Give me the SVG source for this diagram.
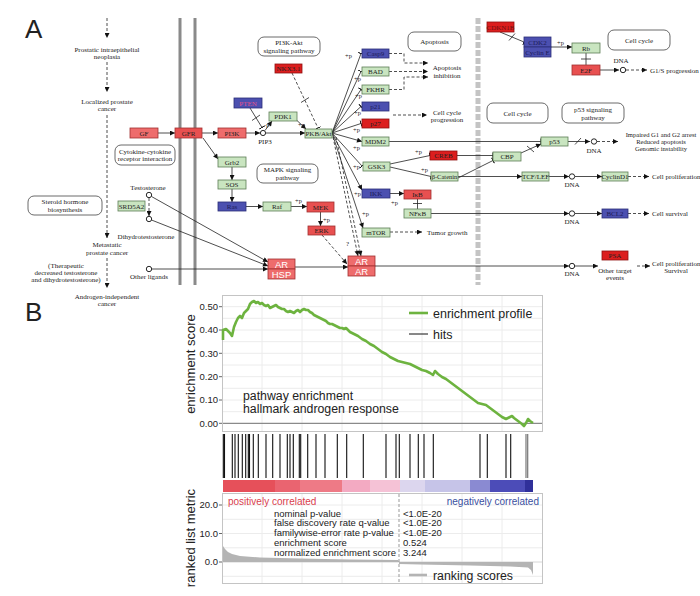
<svg xmlns="http://www.w3.org/2000/svg" width="700" height="596" viewBox="0 0 700 596">
<style>
.g{fill:#c9e5c0;stroke:#5d7d55;stroke-width:.8}
.b{fill:#4c50b0;stroke:#2b2e78;stroke-width:.8}
.r{fill:#e85050;stroke:#a03030;stroke-width:.8}
.rl{fill:#ee6c6c;stroke:#a03030;stroke-width:.8}
.rs{fill:#dc1e1e;stroke:#901010;stroke-width:.8}
.pw{fill:#fff;stroke:#444;stroke-width:.8}
.t{font-family:"Liberation Serif",serif;font-size:7px;text-anchor:middle;fill:#222}
.tl{font-family:"Liberation Serif",serif;font-size:7px;fill:#222}
.tb{font-family:"Liberation Serif",serif;font-size:7px;text-anchor:middle;fill:#1c1c58}
.ta{font-family:"Liberation Sans",sans-serif;font-size:9.5px;text-anchor:middle;fill:#fff}
.p{font-family:"Liberation Serif",serif;font-size:6.5px;fill:#222}
.c{fill:none;stroke:#222;stroke-width:.8}
.d{stroke-dasharray:3,2}
.dot{fill:#fff;stroke:#111;stroke-width:.9}
.s{font-family:"Liberation Sans",sans-serif;fill:#222}
.grid{stroke:#ececec;stroke-width:1}
.hit{stroke:#111;stroke-width:1.1}
</style>
<defs>
<marker id="a" viewBox="0 0 10 10" refX="10" refY="5" markerWidth="6" markerHeight="5" orient="auto" markerUnits="userSpaceOnUse"><path d="M0,0 10,5 0,10z" fill="#111"/></marker>
<marker id="i" viewBox="0 0 2 10" refX="1" refY="5" markerWidth="1.2" markerHeight="7" orient="auto" markerUnits="userSpaceOnUse"><rect width="2" height="10" fill="#111"/></marker>
</defs>
<rect width="700" height="596" fill="#fff"/>

<!-- Panel A -->
<text x="25" y="38" class="s" font-size="26">A</text>
<rect x="178.5" y="18" width="3" height="267" fill="#8a8a8a"/>
<rect x="193.5" y="18" width="3" height="267" fill="#8a8a8a"/>
<line x1="478" y1="18" x2="478" y2="285" stroke="#c4c4c4" stroke-width="5" stroke-dasharray="6,2"/>

<g id="stages">
<text class="t" x="107" y="52">Prostatic intraepithelial</text>
<text class="t" x="107" y="58.5">neoplasia</text>
<text class="t" x="107" y="104">Localized prostate</text>
<text class="t" x="107" y="110.5">cancer</text>
<text class="t" x="107" y="247">Metastatic</text>
<text class="t" x="107" y="254.5">prostate cancer</text>
<text class="t" x="66" y="267.5">(Therapeutic</text>
<text class="t" x="66" y="274.5">decreased testosterone</text>
<text class="t" x="66" y="281.5">and dihydrotestosterone)</text>
<text class="t" x="107" y="299">Androgen-independent</text>
<text class="t" x="107" y="305.5">cancer</text>
</g>

<g id="pathways">
<rect class="pw" x="258" y="37" width="62" height="19" rx="6"/><text class="t" x="289" y="45">PI3K-Akt</text><text class="t" x="289" y="52.5">signaling pathway</text>
<rect class="pw" x="408" y="32" width="53" height="19" rx="6"/><text class="t" x="434.5" y="44">Apoptosis</text>
<rect class="pw" x="608" y="30" width="62" height="20" rx="6"/><text class="t" x="639" y="42.5">Cell cycle</text>
<rect class="pw" x="487" y="103" width="61" height="20" rx="6"/><text class="t" x="517.5" y="115.5">Cell cycle</text>
<rect class="pw" x="562" y="103" width="62" height="20" rx="6"/><text class="t" x="593" y="112">p53 signaling</text><text class="t" x="593" y="119.5">pathway</text>
<rect class="pw" x="257" y="164" width="61" height="19" rx="6"/><text class="t" x="287.5" y="172">MAPK signaling</text><text class="t" x="287.5" y="179.5">pathway</text>
<rect class="pw" x="115" y="145" width="60" height="20" rx="6"/><text class="t" x="145" y="153.5">Cytokine-cytokine</text><text class="t" x="145" y="161">receptor interaction</text>
<rect class="pw" x="28" y="196" width="74" height="19" rx="6"/><text class="t" x="65" y="204">Steroid hormone</text><text class="t" x="65" y="211.5">biosynthesis</text>
</g>

<g id="connectors">
<path class="c d" d="M107,18V38" marker-end="url(#a)"/>
<path class="c d" d="M107,62V92" marker-end="url(#a)"/>
<path class="c d" d="M107,115V238" marker-end="url(#a)"/>
<path class="c d" d="M107,258V288" marker-end="url(#a)"/>
<path class="c" d="M158,133H175" marker-end="url(#a)"/>
<path class="c" d="M202,133H218" marker-end="url(#a)"/>
<path class="c" d="M246,133H260" marker-end="url(#a)"/>
<path class="c" d="M266,133H305" marker-end="url(#a)"/>
<path class="c" d="M265,130.5L272,121" marker-end="url(#a)"/>
<path class="c" d="M297,120.5L306,129" marker-end="url(#a)"/>
<path class="c" d="M250,108L262,127.5" marker-end="url(#i)"/>
<path class="c" d="M252,120.5L260,115"/>
<path class="c d" d="M292,73L318,128" marker-end="url(#i)"/>
<path class="c" d="M301,102.5L309,97.5"/>
<path class="c" d="M203,138L218,159" marker-end="url(#a)"/>
<path class="c" d="M232,167V180" marker-end="url(#a)"/>
<path class="c" d="M232,189V202" marker-end="url(#a)"/>
<path class="c" d="M246,206.5H263" marker-end="url(#a)"/>
<path class="c" d="M291,206.5H307" marker-end="url(#a)"/>
<path class="c" d="M320.5,212V226" marker-end="url(#a)"/>
<path class="c d" d="M322,235L347,264" marker-end="url(#a)"/>
<path class="c" d="M295,267H348" marker-end="url(#a)"/>
<path class="c d" d="M149,198V216" marker-end="url(#a)"/>
<path class="c" d="M151.5,196.5L268,262" marker-end="url(#a)"/>
<path class="c" d="M151.5,220L268,266" marker-end="url(#a)"/>
<path class="c" d="M152,269H268" marker-end="url(#a)"/>
<path class="c" d="M332,133L361,53.5" marker-end="url(#i)"/>
<path class="c" d="M332,133L361,71.5" marker-end="url(#i)"/>
<path class="c" d="M332,133L361,89.5" marker-end="url(#i)"/>
<path class="c" d="M332,133L361,106.5" marker-end="url(#i)"/>
<path class="c" d="M332,133L361,123.5" marker-end="url(#i)"/>
<path class="c" d="M332,133L362,141.5" marker-end="url(#a)"/>
<path class="c" d="M332,133L362,166" marker-end="url(#i)"/>
<path class="c" d="M332,133L362,190" marker-end="url(#a)"/>
<path class="c" d="M332,133L363,228" marker-end="url(#a)"/>
<path class="c d" d="M333,137L358,256" marker-end="url(#a)"/>
<path class="c d" d="M336,137L361,256" marker-end="url(#a)"/>
<path class="c d" d="M389,53.5H404V63H428" marker-end="url(#a)"/>
<path class="c d" d="M389,71.5H428" marker-end="url(#a)"/>
<path class="c d" d="M389,89.5H404V77H428" marker-end="url(#a)"/>
<path class="c d" d="M393,115H427" marker-end="url(#a)"/>
<path class="c d" d="M390,232H422" marker-end="url(#a)"/>
<path class="c" d="M389,141.5H541" marker-end="url(#i)"/>
<path class="c" d="M390,164L430,155.5" marker-end="url(#i)"/>
<path class="c" d="M390,167L431,176.5" marker-end="url(#i)"/>
<path class="c" d="M457,155.5H493" marker-end="url(#i)"/>
<path class="c" d="M458,178L493,160.5" marker-end="url(#i)"/>
<path class="c" d="M521,153L541,144" marker-end="url(#a)"/>
<path class="c" d="M527,146L534,152"/>
<path class="c" d="M458,176.5H522" marker-end="url(#a)"/>
<path class="c" d="M549,176.5H569" marker-end="url(#a)"/>
<path class="c" d="M575,176.5H602" marker-end="url(#a)"/>
<path class="c d" d="M628,176.5H649" marker-end="url(#a)"/>
<path class="c" d="M390,193.5H404" marker-end="url(#a)"/>
<path class="c" d="M417.5,199V209M413,203.5H422"/>
<path class="c" d="M431,213.5H569" marker-end="url(#a)"/>
<path class="c" d="M575,213.5H602" marker-end="url(#a)"/>
<path class="c d" d="M628,213.5H649" marker-end="url(#a)"/>
<path class="c" d="M375,266H569" marker-end="url(#a)"/>
<path class="c" d="M575,266H598" marker-end="url(#a)"/>
<path class="c d" d="M637,266H650" marker-end="url(#a)"/>
<path class="c" d="M568,141.5H590" marker-end="url(#a)"/>
<path class="c" d="M575,144.5L581,138"/>
<path class="c d" d="M597,141.5H618" marker-end="url(#a)"/>
<path class="c" d="M586,53V65M581,59H591"/>
<path class="c" d="M551,47H572" marker-end="url(#a)"/>
<path class="c" d="M500,32L524,42" marker-end="url(#i)"/>
<path class="c" d="M509,40.5L515,33.5"/>
<path class="c" d="M600,70H619" marker-end="url(#a)"/>
<path class="c d" d="M626,70H647" marker-end="url(#a)"/>
<circle class="dot" cx="263" cy="133" r="2.6"/>
<circle class="dot" cx="149" cy="195" r="2.7"/>
<circle class="dot" cx="149" cy="219" r="2.7"/>
<circle class="dot" cx="149" cy="269" r="2.7"/>
<circle class="dot" cx="572" cy="176.5" r="2.7"/>
<circle class="dot" cx="572" cy="213.5" r="2.7"/>
<circle class="dot" cx="572" cy="266" r="2.7"/>
<circle class="dot" cx="594" cy="141.5" r="2.7"/>
<circle class="dot" cx="623" cy="70" r="2.7"/>
</g>

<g id="labels">
<text class="t" x="265" y="144">PIP3</text>
<text class="p" x="264" y="127">-p</text>
<text class="p" x="298" y="127">+p</text>
<text class="p" x="295" y="203">+p</text>
<text class="p" x="323" y="222">+p</text>
<text class="p" x="345" y="58">+p</text>
<text class="p" x="354" y="81">+p</text>
<text class="p" x="355" y="98">+p</text>
<text class="p" x="354" y="115">+p</text>
<text class="p" x="353" y="132">+p</text>
<text class="p" x="353" y="150">+p</text>
<text class="p" x="353" y="169">+p</text>
<text class="p" x="354" y="196">+p</text>
<text class="p" x="362" y="216">+p</text>
<text class="p" x="415" y="154">+p</text>
<text class="p" x="421" y="172">+p</text>
<text class="p" x="391" y="205">+p</text>
<text class="p" x="557" y="45">+p</text>
<text class="tl" x="346" y="246">?</text>
<text class="t" x="148" y="189.5">Testosterone</text>
<text class="t" x="146" y="239">Dihydrotestosterone</text>
<text class="t" x="149" y="279">Other ligands</text>
<text class="t" x="447" y="70">Apoptosis</text>
<text class="t" x="447" y="77.5">inhibition</text>
<text class="t" x="447" y="114.5">Cell cycle</text>
<text class="t" x="447" y="122">progression</text>
<text class="tl" x="427" y="234.5">Tumor growth</text>
<text class="t" x="621" y="63">DNA</text>
<text class="tl" x="650" y="72.5">G1/S progression</text>
<text class="t" x="594" y="153">DNA</text>
<text class="t" x="661" y="136.5" style="font-size:6.6px">Impaired G1 and G2 arrest</text>
<text class="t" x="661" y="143.5" style="font-size:6.6px">Reduced apoptosis</text>
<text class="t" x="661" y="150.5" style="font-size:6.6px">Genomic instability</text>
<text class="t" x="572" y="187">DNA</text>
<text class="tl" x="652" y="179">Cell proliferation</text>
<text class="t" x="572" y="224">DNA</text>
<text class="tl" x="652" y="216">Cell survival</text>
<text class="t" x="572" y="276">DNA</text>
<text class="t" x="615" y="272.5">Other target</text>
<text class="t" x="615" y="280">events</text>
<text class="tl" x="652" y="265.5">Cell proliferation</text>
<text class="t" x="676" y="273">Survival</text>
</g>

<g id="GF"><rect class="rl" x="130" y="128" width="28" height="10"/><text class="t" x="144" y="135.5">GF</text></g>
<g id="GFR"><rect class="r" x="175" y="128" width="27" height="10"/><text class="t" x="188.5" y="135.5">GFR</text></g>
<g id="PI3K"><rect class="rl" x="218" y="128" width="28" height="10"/><text class="t" x="232" y="135.5">PI3K</text></g>
<g id="PTEN"><rect class="b" x="234" y="98" width="28" height="10"/><text class="t" x="248" y="105.5" style="fill:#e0508a">PTEN</text></g>
<g id="PDK1"><rect class="g" x="269" y="112" width="28" height="9"/><text class="t" x="283" y="119">PDK1</text></g>
<g id="PKBAkt"><rect class="g" x="305" y="129" width="27" height="9"/><text class="t" x="318.5" y="136">PKB/Akt</text></g>
<g id="NKX3.1"><rect class="rs" x="275" y="64" width="27" height="9"/><text class="t" x="288.5" y="71">NKX3.1</text></g>
<g id="Casp9"><rect class="b" x="362" y="49" width="27" height="9"/><text class="tb" x="375.5" y="56">Casp9</text></g>
<g id="BAD"><rect class="g" x="362" y="67" width="27" height="9"/><text class="t" x="375.5" y="74">BAD</text></g>
<g id="FKHR"><rect class="g" x="362" y="85" width="27" height="9"/><text class="t" x="375.5" y="92">FKHR</text></g>
<g id="p21"><rect class="b" x="362" y="102" width="27" height="9"/><text class="tb" x="375.5" y="109">p21</text></g>
<g id="p27"><rect class="rs" x="362" y="119" width="27" height="9"/><text class="t" x="375.5" y="126">p27</text></g>
<g id="MDM2"><rect class="g" x="362" y="137" width="27" height="9"/><text class="t" x="375.5" y="144">MDM2</text></g>
<g id="GSK3"><rect class="g" x="363" y="162" width="27" height="9"/><text class="t" x="376.5" y="169">GSK3</text></g>
<g id="IKK"><rect class="b" x="362" y="189" width="28" height="9"/><text class="tb" x="376" y="196">IKK</text></g>
<g id="mTOR"><rect class="g" x="362" y="228" width="28" height="9"/><text class="t" x="376" y="235">mTOR</text></g>
<g id="CREB"><rect class="rs" x="430" y="151" width="27" height="9"/><text class="t" x="443.5" y="158">CREB</text></g>
<g id="bCatenin"><rect class="g" x="431" y="172" width="27" height="9"/><text class="t" x="444.5" y="179" style="font-size:6.5px">β-Catenin</text></g>
<g id="IkB"><rect class="r" x="404" y="190" width="27" height="9"/><text class="t" x="417.5" y="197">IκB</text></g>
<g id="NFkB"><rect class="g" x="404" y="209" width="27" height="9"/><text class="t" x="417.5" y="216">NFκB</text></g>
<g id="Grb2"><rect class="g" x="218" y="157" width="28" height="10"/><text class="t" x="232" y="164.5">Grb2</text></g>
<g id="SOS"><rect class="g" x="218" y="180" width="28" height="9"/><text class="t" x="232" y="187">SOS</text></g>
<g id="Ras"><rect class="b" x="218" y="202" width="28" height="9"/><text class="tb" x="232" y="209">Ras</text></g>
<g id="Raf"><rect class="g" x="263" y="202" width="28" height="9"/><text class="t" x="277" y="209">Raf</text></g>
<g id="MEK"><rect class="r" x="307" y="202" width="27" height="10"/><text class="t" x="320.5" y="209.5">MEK</text></g>
<g id="ERK"><rect class="r" x="308" y="226" width="27" height="9"/><text class="t" x="321.5" y="233">ERK</text></g>
<g id="AR-AR"><rect class="rl" x="348" y="256" width="27" height="10"/><rect class="rl" x="348" y="266" width="27" height="10"/><text class="ta" x="361.5" y="264.5">AR</text><text class="ta" x="361.5" y="274.5">AR</text></g>
<g id="AR-HSP"><rect class="rl" x="268" y="259" width="27" height="10"/><rect class="rl" x="268" y="269" width="27" height="10"/><text class="ta" x="281.5" y="267.5">AR</text><text class="ta" x="281.5" y="277.5">HSP</text></g>
<g id="SRD5A2"><rect class="g" x="118" y="201" width="27" height="10"/><text class="t" x="131.5" y="208.5">SRD5A2</text></g>
<g id="CDKN1B"><rect class="rs" x="487" y="22" width="27" height="10"/><text class="t" x="500.5" y="29.5" style="fill:#701010">CDKN1B</text></g>
<g id="CDK2"><rect class="b" x="524" y="37" width="27" height="10"/><rect class="b" x="524" y="47" width="27" height="10"/><text class="tb" x="537.5" y="44.5">CDK2</text><text class="tb" x="537.5" y="54.5">Cyclin E</text></g>
<g id="Rb"><rect class="g" x="572" y="43" width="28" height="10"/><text class="t" x="586" y="50.5">Rb</text></g>
<g id="E2F"><rect class="r" x="572" y="65" width="28" height="10"/><text class="t" x="586" y="72.5">E2F</text></g>
<g id="p53"><rect class="g" x="541" y="137" width="27" height="9"/><text class="t" x="554.5" y="144">p53</text></g>
<g id="CBP"><rect class="g" x="493" y="152" width="28" height="9"/><text class="t" x="507" y="159">CBP</text></g>
<g id="TCFLEF"><rect class="g" x="522" y="172" width="27" height="9"/><text class="t" x="535.5" y="179">TCF/LEF</text></g>
<g id="CyclinD1"><rect class="g" x="602" y="172" width="26" height="9"/><text class="t" x="615" y="179">CyclinD1</text></g>
<g id="BCL2"><rect class="b" x="602" y="209" width="26" height="9"/><text class="tb" x="615" y="216">BCL2</text></g>
<g id="PSA"><rect class="rs" x="602" y="251" width="26" height="9"/><text class="t" x="615" y="258">PSA</text></g>

<!-- Panel B -->
<text x="25" y="321" class="s" font-size="26">B</text>
<g id="enrichment-plot">
<rect x="222.5" y="295.5" width="320" height="136" fill="#fff" stroke="#c4c4c4"/>
<g class="grid">
<path d="M262,296V431M302,296V431M342,296V431M382,296V431M422,296V431M462,296V431M502,296V431"/>
<path d="M223,306.7H542M223,318.3H542M223,330H542M223,341.7H542M223,353.3H542M223,365H542M223,376.7H542M223,388.3H542M223,400H542M223,411.7H542"/>
</g>
<path d="M223,423.3H542" stroke="#8a8a8a" stroke-width="1.3"/>
<path d="M219,306.7H222M219,330H222M219,353.3H222M219,376.7H222M219,400H222M219,423.3H222" stroke="#666"/>
<g class="s" font-size="9.5" text-anchor="end">
<text x="218" y="310">0.50</text><text x="218" y="333.4">0.40</text><text x="218" y="356.7">0.30</text><text x="218" y="380">0.20</text><text x="218" y="403.4">0.10</text><text x="218" y="426.7">0.00</text>
</g>
<text class="s" font-size="13" text-anchor="middle" transform="translate(195,364) rotate(-90)">enrichment score</text>
<polyline fill="none" stroke="#6db33f" stroke-width="2.6" stroke-linejoin="round" points="223,340 223,330 226,329 230,333 232,336 234,327 236,322 238,318 240,316 242,318 244,313 246,311 248,309 250,304 252,302 254,301 256,303 258,302 260,304 262,303 264,305 266,306 268,305 270,308 272,307 274,306 276,305 278,307 280,308 282,309 284,309 286,311 288,312 290,311 292,312 294,313 296,311 298,310 300,312 302,310 304,309 306,310 308,310 310,312 312,313 314,315 316,316 318,317 320,318 322,319 324,320 326,321 328,323 330,324 332,324 334,325 336,326 338,327 340,328 342,328 344,329 346,328 348,330 350,332 354,334 358,336 362,339 366,341 370,344 374,346 378,349 382,352 386,354 390,357 394,359 398,361 402,362 406,363 410,364 414,366 418,368 422,370 426,371 430,373 433,375 435,371 438,374 442,377 446,379 450,382 454,385 458,388 462,391 466,394 470,397 474,400 478,403 482,404 486,405 490,408 494,411 498,414 502,417 506,419 510,417 512,416 514,418 518,421 522,424 524,426 526,423 528,419 530,421 533,423"/>
<path d="M409,313H428" stroke="#6db33f" stroke-width="2.6"/>
<text class="s" x="433" y="318" font-size="12.5">enrichment profile</text>
<path d="M409,334H428" stroke="#111" stroke-width="1"/>
<text class="s" x="433" y="339" font-size="12.5">hits</text>
<text class="s" x="243" y="400" font-size="12.3">pathway enrichment</text>
<text class="s" x="243" y="413" font-size="12.3">hallmark androgen response</text>
</g>

<g id="hits">
<path class="hit" d="M223.3,434V478M224.5,434V478M232.3,434V478M235,434V478M238.3,434V478M242.3,434V478M245.7,434V478M248.3,434V478M249.5,434V478M253.3,434V478M258.3,434V478M266,434V478M272.7,434V478M280,434V478M287.3,434V478M290,434V478M293.3,434V478M299.3,434V478M300.7,434V478M307.7,434V478M316,434V478M325,434V478M337.3,434V478M346.7,434V478M363.3,434V478M386,434V478M396,434V478M399.3,434V478M410,434V478M418.3,434V478M424,434V478M433.3,434V478M480,434V478M487.3,434V478M506,434V478M510.7,434V478"/>
<path d="M526,434V478M527.7,434V478" stroke="#777" stroke-width="1.2"/>
</g>
<g id="colorbar">
<rect x="223" y="480" width="52" height="12" fill="#e6505a"/>
<rect x="275" y="480" width="25" height="12" fill="#ea6470"/>
<rect x="300" y="480" width="42" height="12" fill="#ee7a86"/>
<rect x="342" y="480" width="28" height="12" fill="#f3aac2"/>
<rect x="370" y="480" width="30" height="12" fill="#f5c2d6"/>
<rect x="400" y="480" width="25" height="12" fill="#dcd6ee"/>
<rect x="425" y="480" width="45" height="12" fill="#c6c4e8"/>
<rect x="470" y="480" width="20" height="12" fill="#8a8ad2"/>
<rect x="490" y="480" width="35" height="12" fill="#4c4cb8"/>
<rect x="525" y="480" width="8" height="12" fill="#30309a"/>
</g>

<g id="ranked-list">
<rect x="222.5" y="493.5" width="320" height="90" fill="#fff" stroke="#c4c4c4"/>
<g class="grid">
<path d="M262,494V583M302,494V583M342,494V583M382,494V583M422,494V583M462,494V583M502,494V583"/>
<path d="M223,505H542M223,519.3H542M223,533.5H542M223,547.8H542M223,576.3H542"/>
</g>
<path d="M223,562H542" stroke="#d6d6d6" stroke-width="1"/>
<path d="M223,562V546L225,549L228,552L232,554L240,556L260,557.5L300,558.5L350,559.5L398,560L399,562Z" fill="#b4b4b4"/>
<path d="M399,562V564L420,564.5L470,565.5L510,566.5L528,567.5L531,570L533,575V562Z" fill="#b4b4b4"/>
<path d="M399,494V583" stroke="#999" stroke-dasharray="3,2"/>
<path d="M219,505H222M219,533.5H222M219,562H222" stroke="#666"/>
<g class="s" font-size="9.5" text-anchor="end">
<text x="218" y="508.4">20.0</text><text x="218" y="536.9">10.0</text><text x="218" y="565.4">0.0</text>
</g>
<text class="s" font-size="13" text-anchor="middle" transform="translate(195,538) rotate(-90)">ranked list metric</text>
<text class="s" x="228" y="504.5" font-size="10" style="fill:#d9404e">positively correlated</text>
<text class="s" x="539" y="504.5" font-size="10" text-anchor="end" style="fill:#3a4fa0">negatively correlated</text>
<g class="s" font-size="9.5">
<text x="274" y="516.5">nominal p-value</text>
<text x="274" y="526">false discovery rate q-value</text>
<text x="274" y="536">familywise-error rate p-value</text>
<text x="274" y="546">enrichment score</text>
<text x="274" y="556">normalized enrichment score</text>
<text x="403" y="516.5">&lt;1.0E-20</text>
<text x="403" y="526">&lt;1.0E-20</text>
<text x="403" y="536">&lt;1.0E-20</text>
<text x="403" y="546">0.524</text>
<text x="403" y="556">3.244</text>
</g>
<path d="M409,575H427" stroke="#b4b4b4" stroke-width="2.6"/>
<text class="s" x="433" y="580" font-size="12.3">ranking scores</text>
</g>
</svg>
